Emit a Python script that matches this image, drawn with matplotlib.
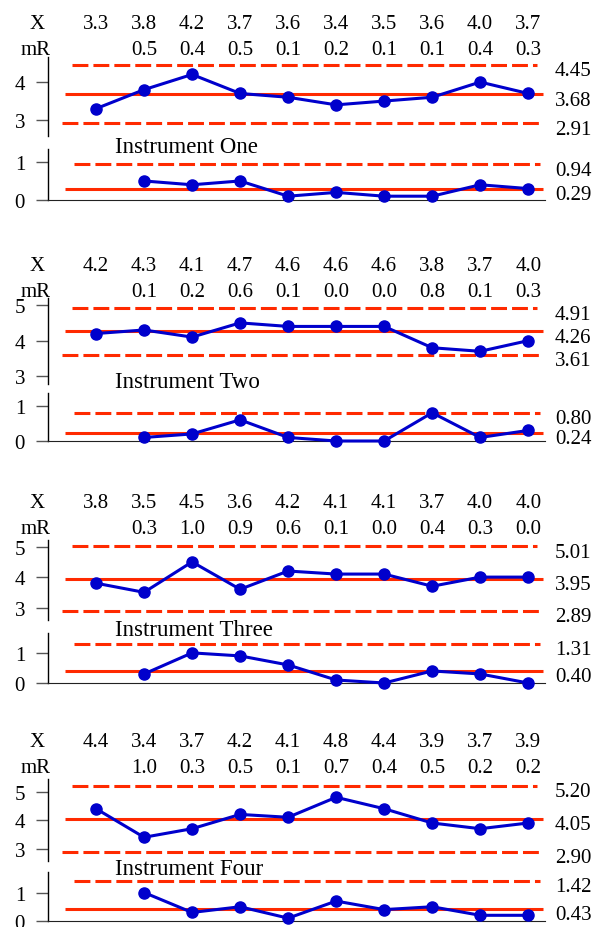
import matplotlib
matplotlib.use('Agg')
import matplotlib.pyplot as plt
from matplotlib.transforms import blended_transform_factory, offset_copy

plt.rcParams['font.family'] = ['Liberation Serif', 'DejaVu Serif']
plt.rcParams['font.size'] = 15

names = ['Instrument One', 'Instrument Two', 'Instrument Three', 'Instrument Four']

# individual readings as printed in the header rows
one_x = [3.3, 3.8, 4.2, 3.7, 3.6, 3.4, 3.5, 3.6, 4.0, 3.7]
two_x = [4.2, 4.3, 4.1, 4.7, 4.6, 4.6, 4.6, 3.8, 3.7, 4.0]
three_x = [3.8, 3.5, 4.5, 3.6, 4.2, 4.1, 4.1, 3.7, 4.0, 4.0]
four_x = [4.4, 3.4, 3.7, 4.2, 4.1, 4.8, 4.4, 3.9, 3.7, 3.9]
# the dots of instrument two do not sit where the printed numbers say
two_x_drawn = [4.2, 4.3, 4.1, 4.5, 4.4, 4.4, 4.4, 3.8, 3.7, 4.0]

# moving ranges
one_mr = [0.5, 0.4, 0.5, 0.1, 0.2, 0.1, 0.1, 0.4, 0.3]
two_mr = [0.1, 0.2, 0.6, 0.1, 0.0, 0.0, 0.8, 0.1, 0.3]
three_mr = [0.3, 1.0, 0.9, 0.6, 0.1, 0.0, 0.4, 0.3, 0.0]
four_mr = [1.0, 0.3, 0.5, 0.1, 0.7, 0.4, 0.5, 0.2, 0.2]

# UCL, centre, LCL for X; UCL, centre for mR
one_lim = [4.45, 3.68, 2.91]
two_lim = [4.91, 4.26, 3.61]
three_lim = [5.01, 3.95, 2.89]
four_lim = [5.20, 4.05, 2.90]
one_mr_lim = [0.94, 0.29]
two_mr_lim = [0.80, 0.24]
three_mr_lim = [1.31, 0.40]
four_mr_lim = [1.42, 0.43]

x_labels = [one_x, two_x, three_x, four_x]
x_drawn = [one_x, two_x_drawn, three_x, four_x]
mrs = [one_mr, two_mr, three_mr, four_mr]
lims = [one_lim, two_lim, three_lim, four_lim]
mr_lims = [one_mr_lim, two_mr_lim, three_mr_lim, four_mr_lim]

W, H = 594, 928
RED = '#ff2a00'
BLUE = '#0000cc'
DASH = (0, (5.2, 1.65))

# pixel layout of each block (header row, axes boxes, title) and y ranges
layout = [
    dict(head=22, xbox=(58, 137), xy=(2.58, 4.66), rbox=(150, 201), ry=(0, 1.34), title=145),
    dict(head=264, xbox=(299, 385), xy=(2.78, 5.20), rbox=(394, 442), ry=(0, 1.36), title=380),
    dict(head=501, xbox=(541, 621), xy=(2.59, 5.22), rbox=(634, 684), ry=(0, 1.66), title=628),
    dict(head=740, xbox=(780, 862), xy=(2.57, 5.44), rbox=(873, 922), ry=(0, 1.72), title=867),
]

fig = plt.figure(figsize=(W / 100, H / 100), dpi=100)


def box(top, bot):
    return [48 / W, 1 - bot / H, (545 - 48) / W, (bot - top) / H]


def style(ax, ylim, bottom):
    ax.set_xlim(0, 10.35)
    ax.set_ylim(*ylim)
    for s in ['top', 'right']:
        ax.spines[s].set_visible(False)
    ax.spines['bottom'].set_visible(bottom)
    ax.spines['bottom'].set_color('#222222')
    ax.spines['left'].set_linewidth(1.0)
    ax.set_xticks([])
    ax.set_yticks([t for t in range(0, 7) if ylim[0] <= t <= ylim[1]])
    ax.tick_params(axis='y', length=8.5, width=1.0, pad=8, labelsize=15, color='#555555')
    ax.patch.set_alpha(0)


def right_labels(ax, values):
    tr = offset_copy(ax.transData, fig=fig, x=0, y=-3.5, units='dots')
    for v in values:
        ax.text(10.56, v, f'{v:.2f}', transform=tr, ha='left',
                va='center_baseline', clip_on=False)


for i, lay in enumerate(layout):
    pos = list(range(1, 11))
    mr_pos = pos[1:]

    # X chart
    ax = fig.add_axes(box(*lay['xbox']))
    style(ax, lay['xy'], False)
    ucl, cl, lcl = lims[i]
    ax.hlines(ucl, 0.5, 10.18, colors=RED, lw=2.2, linestyles=DASH)
    ax.hlines(lcl, 0.3, 10.27, colors=RED, lw=2.2, linestyles=DASH)
    ax.hlines(cl, 0.35, 10.3, colors=RED, lw=2.2)
    ax.plot(pos, x_drawn[i], '-o', color=BLUE, lw=2.2, ms=8, clip_on=False, zorder=3)
    right_labels(ax, lims[i])

    # header rows
    tr = blended_transform_factory(ax.transData, fig.transFigure)
    yx = 1 - lay['head'] / H
    ym = 1 - (lay['head'] + 26) / H
    for p, v in zip(pos, x_labels[i]):
        ax.text(p, yx, f'{v:.1f}', transform=tr, ha='center', va='center_baseline', clip_on=False)
    for p, v in zip(mr_pos, mrs[i]):
        ax.text(p, ym, f'{v:.1f}', transform=tr, ha='center', va='center_baseline', clip_on=False)
    fig.text(37 / W, yx, 'X', ha='center', va='center_baseline')
    fig.text(36 / W, ym, 'mR', ha='center', va='center_baseline')

    fig.text(115 / W, 1 - lay['title'] / H, names[i], ha='left', va='center_baseline', size=16.5)

    # mR chart
    axr = fig.add_axes(box(*lay['rbox']))
    style(axr, lay['ry'], True)
    rucl, rcl = mr_lims[i]
    axr.hlines(rucl, 0.55, 10.25, colors=RED, lw=2.2, linestyles=DASH)
    axr.hlines(rcl, 0.35, 10.3, colors=RED, lw=2.2)
    axr.plot(mr_pos, mrs[i], '-o', color=BLUE, lw=2.2, ms=8, clip_on=False, zorder=3)
    right_labels(axr, mr_lims[i])

fig.savefig('out.png', dpi=100)
